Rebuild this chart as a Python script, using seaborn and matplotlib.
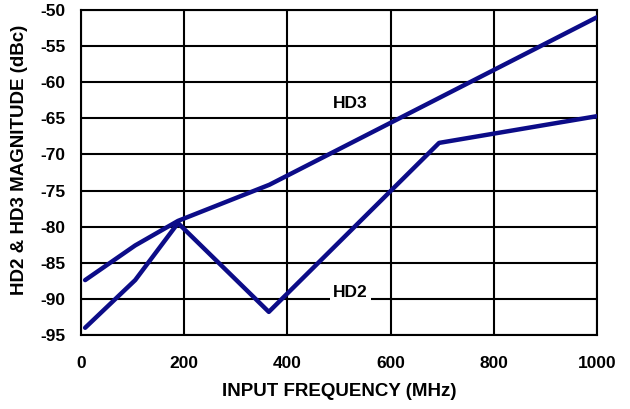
import matplotlib
matplotlib.use("Agg")
import matplotlib.pyplot as plt
import seaborn as sns
import pandas as pd

hd3_freq = [8, 105, 188, 365, 1000]
hd3_db = [-87.4, -82.6, -79.2, -74.2, -51.0]
hd2_freq = [8, 105, 188, 364, 694, 1000]
hd2_db = [-94.0, -87.4, -79.5, -91.8, -68.4, -64.7]
x_ticks = [0, 200, 400, 600, 800, 1000]
y_ticks = [-50, -55, -60, -65, -70, -75, -80, -85, -90, -95]

sns.set_theme(style="white")
plt.rcParams['font.family'] = ['Liberation Sans', 'DejaVu Sans']
plt.rcParams['font.weight'] = 'bold'

FS = 12.5
LFS = 13.5
fig = plt.figure(figsize=(6.3, 4.09), dpi=100)
ax = fig.add_axes([81/630, 1 - 335/409, (597-81)/630, (335-10)/409])

color = "#0c0c88"
df3 = pd.DataFrame({"f": hd3_freq, "db": hd3_db})
df2 = pd.DataFrame({"f": hd2_freq, "db": hd2_db})
sns.lineplot(data=df3, x="f", y="db", ax=ax, color=color, lw=3.2, sort=False, zorder=3)
sns.lineplot(data=df2, x="f", y="db", ax=ax, color=color, lw=3.2, sort=False, zorder=3)

ax.set_xlim(0, 1000)
ax.set_ylim(-95, -50)
ax.set_xticks(x_ticks)
ax.set_yticks(y_ticks)
ax.set_xticklabels([str(v) for v in x_ticks], fontsize=FS, fontweight='bold')
ax.set_yticklabels([str(v) for v in y_ticks], fontsize=FS, fontweight='bold')
ax.grid(True, color='black', lw=1.5, zorder=1)
ax.set_axisbelow(True)
for s in ax.spines.values():
    s.set_color('black')
    s.set_linewidth(1.5)
ax.tick_params(axis='x', length=0, pad=15, colors='black')
ax.tick_params(axis='y', length=0, pad=11, colors='black')

ax.set_xlabel("INPUT FREQUENCY (MHz)", fontsize=LFS, fontweight='bold', color='black')
ax.set_ylabel("HD2 & HD3 MAGNITUDE (dBc)", fontsize=LFS, fontweight='bold', color='black')
ax.xaxis.label.set_va('center')
ax.yaxis.label.set_va('center')
ax.xaxis.set_label_coords((339.5-81)/516, (335-392)/325)
ax.yaxis.set_label_coords((20-81)/516, (335-160)/325)

ax.text(522, -62.9, "HD3", fontsize=FS, fontweight='bold', ha='center', va='center', color='black', zorder=4)
ax.text(522, -89.1, "HD2", fontsize=FS, fontweight='bold', ha='center', va='center', color='black', zorder=4,
        bbox=dict(facecolor='white', edgecolor='none', pad=2.5))

fig.savefig("out.png", dpi=100)
